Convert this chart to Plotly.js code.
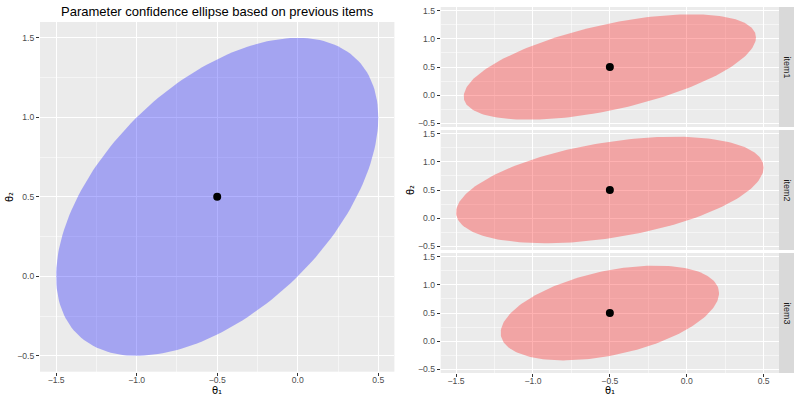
<!DOCTYPE html>
<html>
<head>
<meta charset="utf-8">
<script src="https://cdn.plot.ly/plotly-3.0.1.min.js"></script>
<style>html,body{margin:0;padding:0;background:#fff;}#chart{width:794px;height:396px;}</style>
</head>
<body>
<div id="chart"></div>
<script>
// ---- data ----
const panelNames = ['previous', 'item1', 'item2', 'item3'];
const centerX   = [-0.5, -0.5, -0.5, -0.5];
const centerY   = [0.5, 0.5, 0.5, 0.5];
const halfWidth  = [1.00, 0.95, 1.00, 0.71];   // ellipse extent along theta1
const halfHeight = [1.00, 0.94, 0.95, 0.845];  // ellipse extent along theta2
const corr       = [0.50, 0.56, 0.42, 0.42];   // correlation of theta1, theta2
const stripLabels = ['item1', 'item2', 'item3'];
const tickVals  = [-1.5, -1.0, -0.5, 0.0, 0.5];
const yTickVals = [-0.5, 0.0, 0.5, 1.0, 1.5];
const titleText = 'Parameter confidence ellipse based on previous items';
const xTitle = 'θ₁';
const yTitle = 'θ₂';

// ---- ellipse outline from centre, extents, correlation ----
function ellipse(i) {
  const xs = [], ys = [], n = 200;
  const r = corr[i], q = Math.sqrt(1 - r * r);
  for (let k = 0; k <= n; k++) {
    const t = 2 * Math.PI * k / n;
    xs.push(centerX[i] + halfWidth[i] * Math.cos(t));
    ys.push(centerY[i] + halfHeight[i] * (r * Math.cos(t) + q * Math.sin(t)));
  }
  return {xs, ys};
}

const W = 794, H = 396;
const axisRefs = [['x', 'y'], ['x2', 'y2'], ['x3', 'y3'], ['x4', 'y4']];
const fills = ['rgba(0,0,255,0.3)', 'rgba(255,0,0,0.3)', 'rgba(255,0,0,0.3)', 'rgba(255,0,0,0.3)'];

const traces = [];
panelNames.forEach((nm, i) => {
  const e = ellipse(i);
  traces.push({
    type: 'scatter', mode: 'lines', x: e.xs, y: e.ys,
    fill: 'toself', fillcolor: fills[i], line: {width: 0},
    xaxis: axisRefs[i][0], yaxis: axisRefs[i][1], hoverinfo: 'skip', showlegend: false
  });
  traces.push({
    type: 'scatter', mode: 'markers', x: [centerX[i]], y: [centerY[i]],
    marker: {color: '#000', size: 8},
    xaxis: axisRefs[i][0], yaxis: axisRefs[i][1], showlegend: false
  });
});

const tickFont = {family: 'Liberation Sans, Arial, sans-serif', size: 8.6, color: '#4D4D4D'};
function xAx(domain, showLabels, anchor) {
  return {
    domain: domain, range: [-1.6, 0.6], anchor: anchor,
    tickvals: tickVals, tickformat: '.1f', showticklabels: showLabels,
    ticks: showLabels ? 'outside' : '', ticklen: 3, tickcolor: '#333', tickwidth: 1,
    ticklabelstandoff: -3,
    tickfont: tickFont, showgrid: true, gridcolor: '#fff', gridwidth: 1,
    minor: {dtick: 0.25, tick0: 0, showgrid: true, gridcolor: '#fff', gridwidth: 0.5},
    zeroline: false, showline: false, fixedrange: true
  };
}
function yAx(domain, range, anchor) {
  return {
    domain: domain, range: range, anchor: anchor,
    tickvals: yTickVals, tickformat: '.1f',
    ticks: 'outside', ticklen: 3, tickcolor: '#333', tickwidth: 1,
    tickfont: tickFont, showgrid: true, gridcolor: '#fff', gridwidth: 1,
    minor: {dtick: 0.25, tick0: 0, showgrid: true, gridcolor: '#fff', gridwidth: 0.5},
    zeroline: false, showline: false, fixedrange: true
  };
}

const rx = [440.7 / W, 779 / W];
const pTop = [7, 130, 253], pH = 120;
const dom = pTop.map(t => [1 - (t + pH) / H, 1 - t / H]);
const rRange = [-0.57, 1.57];
const tFont = {family: 'DejaVu Sans, sans-serif', size: 10, color: '#000'};

const layout = {
  width: W, height: H,
  margin: {l: 0, r: 0, t: 0, b: 0},
  paper_bgcolor: '#fff', plot_bgcolor: '#EBEBEB',
  font: {family: 'Liberation Sans, Arial, sans-serif'},
  xaxis: xAx([40 / W, 394.4 / W], true, 'y'),
  yaxis: yAx([1 - 371.7 / H, 1 - 22 / H], [-0.6, 1.6], 'x'),
  xaxis2: xAx(rx, false, 'y2'),
  yaxis2: yAx(dom[0], rRange, 'x2'),
  xaxis3: xAx(rx, false, 'y3'),
  yaxis3: yAx(dom[1], rRange, 'x3'),
  xaxis4: xAx(rx, true, 'y4'),
  yaxis4: yAx(dom[2], rRange, 'x4'),
  shapes: [],
  annotations: [
    {text: titleText, xref: 'paper', yref: 'paper', x: 217 / W, y: 1 - 12 / H,
     showarrow: false, font: {size: 13, color: '#000'}, xanchor: 'center', yanchor: 'middle'},
    {text: xTitle, xref: 'paper', yref: 'paper', x: 217 / W, y: 0, yshift: -1,
     showarrow: false, font: tFont, xanchor: 'center', yanchor: 'bottom', borderpad: 0},
    {text: xTitle, xref: 'paper', yref: 'paper', x: 610 / W, y: 0, yshift: -1,
     showarrow: false, font: tFont, xanchor: 'center', yanchor: 'bottom', borderpad: 0},
    {text: yTitle, xref: 'paper', yref: 'paper', x: 10 / W, y: 1 - 197 / H, textangle: -90,
     showarrow: false, font: tFont, xanchor: 'center', yanchor: 'middle', borderpad: 0},
    {text: yTitle, xref: 'paper', yref: 'paper', x: 410 / W, y: 1 - 190 / H, textangle: -90,
     showarrow: false, font: tFont, xanchor: 'center', yanchor: 'middle', borderpad: 0}
  ]
};

stripLabels.forEach((lab, k) => {
  layout.shapes.push({type: 'rect', xref: 'paper', yref: 'paper', layer: 'below',
    x0: 779 / W, x1: 1, y0: dom[k][0], y1: dom[k][1], fillcolor: '#D9D9D9', line: {width: 0}});
  layout.annotations.push({text: lab, xref: 'paper', yref: 'paper',
    x: 786.5 / W, y: (dom[k][0] + dom[k][1]) / 2, textangle: 90, showarrow: false,
    font: {size: 9, color: '#1A1A1A'}, xanchor: 'center', yanchor: 'middle'});
});

Plotly.newPlot('chart', traces, layout, {staticPlot: true, displayModeBar: false});
</script>
</body>
</html>
